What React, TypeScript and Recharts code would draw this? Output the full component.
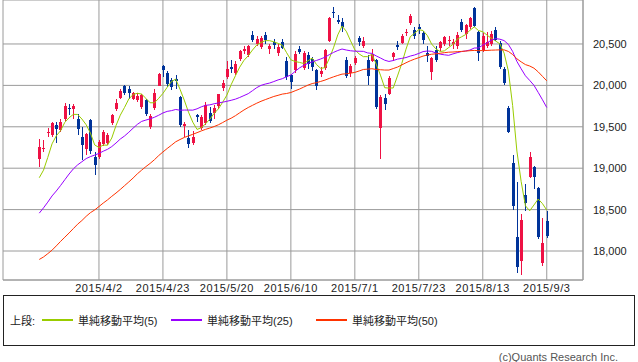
import { Bar, CartesianGrid, ComposedChart, Line, XAxis, YAxis } from "recharts";

// 日経平均 日足 (2015/3/13 - 2015/9/3)
const dates = [
  "3/13", "3/16", "3/17", "3/18", "3/19", "3/20", "3/23", "3/24", "3/25", "3/26",
  "3/27", "3/30", "3/31", "4/1", "4/2", "4/3", "4/6", "4/7", "4/8", "4/9",
  "4/10", "4/13", "4/14", "4/15", "4/16", "4/17", "4/20", "4/21", "4/22", "4/23",
  "4/24", "4/27", "4/28", "4/30", "5/1", "5/7", "5/8", "5/11", "5/12", "5/13",
  "5/14", "5/15", "5/18", "5/19", "5/20", "5/21", "5/22", "5/25", "5/26", "5/27",
  "5/28", "5/29", "6/1", "6/2", "6/3", "6/4", "6/5", "6/8", "6/9", "6/10",
  "6/11", "6/12", "6/15", "6/16", "6/17", "6/18", "6/19", "6/22", "6/23", "6/24",
  "6/25", "6/26", "6/29", "6/30", "7/1", "7/2", "7/3", "7/6", "7/7", "7/8",
  "7/9", "7/10", "7/13", "7/14", "7/15", "7/16", "7/17", "7/21", "7/22", "7/23",
  "7/24", "7/27", "7/28", "7/29", "7/30", "7/31", "8/3", "8/4", "8/5", "8/6",
  "8/7", "8/10", "8/11", "8/12", "8/13", "8/14", "8/17", "8/18", "8/19", "8/20",
  "8/21", "8/24", "8/25", "8/26", "8/27", "8/28", "8/31", "9/1", "9/2", "9/3",
];

const open = [
  19111, 19230, 19420, 19400, 19520, 19460, 19590, 19730, 19720, 19600,
  19373, 19228, 19580, 19140, 19140, 19290, 19300, 19545, 19710, 19850,
  19990, 19960, 19835, 19820, 19745, 19820, 19500, 19730, 19995, 20240,
  20150, 20070, 20080, 19860, 19505, 19360, 19300, 19640, 19490, 19546,
  19670, 19670, 19751, 19965, 20100, 20226, 20150, 20315, 20420, 20367,
  20609, 20500, 20460, 20609, 20436, 20528, 20388, 20528, 20295, 20126,
  20186, 20436, 20207, 20367, 20320, 20186, 20140, 20207, 20530, 20890,
  20785, 20770, 20310, 20146, 20267, 20569, 20470, 20307, 20300, 20307,
  19480, 19845, 19900, 20340, 20490, 20516, 20637, 20750, 20670, 20700,
  20630, 20390, 20166, 20430, 20450, 20500, 20530, 20500, 20470, 20760,
  20620, 20700, 20930, 20650, 20430, 20480, 20500, 20670, 20512, 20198,
  19727, 19063, 18169, 17880, 18676, 18894, 19014, 18761, 17855, 18362,
];

const high = [
  19350, 19340, 19490, 19560, 19560, 19600, 19784, 19780, 19778, 19650,
  19500, 19430, 19600, 19190, 19340, 19460, 19420, 19660, 19840, 19960,
  20006, 19990, 19925, 19910, 19900, 19840, 19650, 19960, 20150, 20252,
  20170, 20090, 20130, 19870, 19560, 19460, 19450, 19660, 19640, 19800,
  19740, 19760, 19900, 20060, 20290, 20310, 20300, 20430, 20480, 20490,
  20655, 20600, 20600, 20650, 20500, 20560, 20500, 20560, 20340, 20140,
  20410, 20480, 20410, 20400, 20340, 20200, 20220, 20440, 20830, 20952,
  20850, 20810, 20340, 20260, 20350, 20600, 20580, 20367, 20440, 20320,
  19880, 19900, 20110, 20400, 20530, 20620, 20680, 20860, 20700, 20740,
  20660, 20480, 20340, 20470, 20540, 20600, 20600, 20560, 20640, 20800,
  20740, 20830, 20946, 20660, 20630, 20640, 20660, 20700, 20540, 20220,
  19750, 19160, 18833, 18450, 18809, 19190, 19030, 18770, 18400, 18480,
];

const low = [
  19020, 19200, 19380, 19380, 19310, 19440, 19570, 19640, 19600, 19400,
  19100, 19160, 19170, 18920, 19110, 19270, 19280, 19520, 19690, 19830,
  19880, 19840, 19820, 19800, 19720, 19630, 19470, 19700, 19990, 20100,
  19980, 19950, 19960, 19500, 19380, 19240, 19280, 19560, 19460, 19520,
  19540, 19600, 19720, 19930, 20080, 20150, 20130, 20300, 20380, 20340,
  20520, 20470, 20440, 20500, 20380, 20440, 20350, 20440, 20060, 19960,
  20150, 20380, 20180, 20200, 20170, 19950, 20100, 20190, 20520, 20810,
  20740, 20650, 20090, 20100, 20250, 20480, 20450, 20000, 20280, 19720,
  19115, 19700, 19880, 20300, 20430, 20500, 20600, 20730, 20560, 20620,
  20500, 20286, 20065, 20280, 20420, 20480, 20470, 20440, 20440, 20640,
  20560, 20680, 20700, 20290, 20400, 20450, 20480, 20530, 20200, 20010,
  19420, 18495, 17740, 17714, 18480, 18880, 18750, 18150, 17820, 18160,
];

const close = [
  19254, 19246, 19437, 19544, 19476, 19560, 19754, 19713, 19746, 19471,
  19285, 19411, 19206, 19034, 19312, 19435, 19397, 19640, 19789, 19937,
  19907, 19905, 19908, 19869, 19885, 19652, 19634, 19909, 20133, 20187,
  20020, 19983, 20058, 19520, 19531, 19292, 19379, 19620, 19624, 19764,
  19570, 19732, 19890, 20026, 20196, 20202, 20264, 20413, 20437, 20472,
  20551, 20563, 20569, 20543, 20473, 20488, 20460, 20457, 20096, 20046,
  20382, 20407, 20387, 20257, 20219, 19990, 20174, 20428, 20809, 20868,
  20771, 20706, 20109, 20235, 20329, 20522, 20539, 20112, 20376, 19737,
  19855, 19779, 20089, 20385, 20463, 20600, 20650, 20841, 20593, 20683,
  20544, 20350, 20328, 20302, 20522, 20585, 20548, 20520, 20614, 20664,
  20724, 20808, 20720, 20392, 20595, 20519, 20620, 20554, 20222, 20033,
  19435, 18540, 17806, 18376, 18574, 19136, 18890, 18165, 18095, 18182,
];

const ma5 = [
  18885, 18976, 19130, 19294, 19391, 19453, 19554, 19609, 19650, 19649,
  19594, 19525, 19424, 19281, 19250, 19280, 19277, 19364, 19515, 19640,
  19734, 19836, 19889, 19905, 19895, 19844, 19790, 19790, 19843, 19903,
  19977, 20046, 20076, 19954, 19822, 19677, 19556, 19468, 19489, 19536,
  19591, 19662, 19716, 19796, 19883, 20009, 20116, 20220, 20302, 20358,
  20427, 20487, 20518, 20540, 20540, 20527, 20507, 20484, 20395, 20309,
  20288, 20278, 20264, 20296, 20330, 20252, 20205, 20214, 20324, 20454,
  20610, 20716, 20653, 20538, 20430, 20380, 20347, 20347, 20376, 20257,
  20124, 19972, 19967, 19969, 20114, 20263, 20437, 20588, 20629, 20673,
  20662, 20602, 20500, 20441, 20409, 20417, 20457, 20495, 20558, 20586,
  20614, 20666, 20706, 20662, 20648, 20607, 20569, 20536, 20502, 20390,
  20173, 19757, 19207, 18838, 18546, 18486, 18556, 18628, 18572, 18494,
];

const ma25 = [
  18457, 18521, 18590, 18665, 18725, 18791, 18861, 18930, 18992, 19040,
  19078, 19116, 19140, 19158, 19179, 19205, 19228, 19261, 19304, 19352,
  19389, 19434, 19483, 19529, 19565, 19581, 19596, 19615, 19639, 19667,
  19686, 19695, 19709, 19700, 19702, 19702, 19701, 19717, 19741, 19759,
  19765, 19778, 19788, 19797, 19808, 19820, 19834, 19854, 19877, 19900,
  19936, 19973, 20000, 20016, 20028, 20046, 20066, 20081, 20105, 20125,
  20169, 20210, 20241, 20266, 20284, 20301, 20319, 20340, 20371, 20398,
  20421, 20439, 20427, 20418, 20413, 20412, 20411, 20392, 20386, 20356,
  20331, 20304, 20289, 20300, 20317, 20326, 20336, 20354, 20367, 20386,
  20408, 20415, 20411, 20391, 20377, 20369, 20363, 20380, 20395, 20408,
  20416, 20427, 20451, 20452, 20486, 20513, 20546, 20565, 20558, 20541,
  20495, 20410, 20289, 20200, 20116, 20060, 20001, 19915, 19826, 19733,
];

const ma50 = [
  17898, 17928, 17968, 18010, 18062, 18116, 18167, 18218, 18271, 18324,
  18368, 18419, 18463, 18496, 18537, 18579, 18617, 18660, 18700, 18743,
  18789, 18834, 18881, 18932, 18976, 19019, 19058, 19102, 19152, 19196,
  19238, 19278, 19319, 19346, 19371, 19390, 19409, 19429, 19450, 19469,
  19485, 19503, 19524, 19551, 19580, 19604, 19634, 19669, 19703, 19733,
  19759, 19785, 19808, 19828, 19847, 19866, 19880, 19895, 19902, 19914,
  19935, 19955, 19979, 20003, 20022, 20033, 20048, 20064, 20084, 20103,
  20120, 20136, 20140, 20148, 20157, 20174, 20192, 20196, 20201, 20192,
  20189, 20185, 20185, 20203, 20221, 20247, 20273, 20297, 20317, 20335,
  20354, 20367, 20376, 20381, 20388, 20395, 20401, 20403, 20407, 20410,
  20414, 20419, 20422, 20419, 20421, 20422, 20425, 20427, 20429, 20429,
  20410, 20373, 20321, 20284, 20251, 20234, 20208, 20163, 20109, 20055,
];

const xTickLabels = ["2015/4/2", "2015/4/23", "2015/5/20", "2015/6/10", "2015/7/1", "2015/7/23", "2015/8/13", "2015/9/3"];
const yTicks = [18000, 18500, 19000, 19500, 20000, 20500];

const UP = "#ee1144";
const DOWN = "#003399";
const GRID = "#9a9a9a";
const FONT = "'Liberation Sans', 'Noto Sans CJK JP', sans-serif";

const maSeries = [
  { key: "ma5", name: "単純移動平均(5)", color: "#99cc00", left: 42 },
  { key: "ma25", name: "単純移動平均(25)", color: "#9900ff", left: 171 },
  { key: "ma50", name: "単純移動平均(50)", color: "#ff3300", left: 316 },
];

const data = dates.map((d, i) => ({
  i,
  date: d,
  o: open[i],
  h: high[i],
  l: low[i],
  c: close[i],
  ma5: ma5[i],
  ma25: ma25[i],
  ma50: ma50[i],
}));

const xTicks = xTickLabels.map((t) => dates.indexOf(t.replace("2015/", "")));

function Candle(props: any) {
  const { x, y, width, height, payload } = props;
  if (x == null || y == null || !payload) return null;
  const top = Math.min(y, y + height);
  const bottom = Math.max(y, y + height);
  const { o, h, l, c } = payload;
  const k = h === l ? 0 : (bottom - top) / (h - l);
  const bodyTop = top + (h - Math.max(o, c)) * k;
  const bodyBottom = top + (h - Math.min(o, c)) * k;
  const color = c >= o ? UP : DOWN;
  const cx = Math.round(x + width / 2 - 0.5);
  return (
    <g shapeRendering="crispEdges">
      <rect x={cx} y={top} width={1} height={Math.max(bottom - top, 1)} fill={color} />
      <rect x={cx - 1} y={bodyTop} width={3} height={Math.max(bodyBottom - bodyTop, 1)} fill={color} />
    </g>
  );
}

export default function App() {
  return (
    <div
      style={{
        position: "absolute",
        left: 0,
        top: 0,
        width: 638,
        height: 362,
        background: "#fff",
        overflow: "hidden",
        fontFamily: FONT,
      }}
    >
      <ComposedChart width={638} height={300} data={data} margin={{ top: 0, right: 0, bottom: 0, left: 3 }}>
        <CartesianGrid stroke={GRID} />
        <XAxis
          dataKey="i"
          type="number"
          domain={[-8.5, 127.5]}
          ticks={xTicks}
          interval={0}
          tickFormatter={(i) => "2015/" + dates[i]}
          tickLine={false}
          tickSize={0}
          tickMargin={4}
          height={20}
          axisLine={{ stroke: GRID }}
          tick={{ fill: "#222", fontSize: 11, letterSpacing: 0.6, fontFamily: FONT }}
        />
        <YAxis
          yAxisId="frame"
          orientation="left"
          width={0}
          tick={false}
          tickLine={false}
          axisLine={{ stroke: GRID }}
        />
        <YAxis
          orientation="right"
          domain={[17650, 21031]}
          ticks={yTicks}
          allowDataOverflow
          width={55}
          tickLine={false}
          tickSize={0}
          tickMargin={10}
          axisLine={{ stroke: GRID }}
          tickFormatter={(v) => Number(v).toLocaleString("en-US")}
          tick={{ fill: "#222", fontSize: 11, fontFamily: FONT }}
        />
        <Bar
          dataKey={(d: any) => [d.l, d.h]}
          barSize={3}
          shape={(p: any) => <Candle {...p} />}
          isAnimationActive={false}
        />
        {maSeries.map((s) => (
          <Line
            key={s.key}
            type="linear"
            dataKey={s.key}
            stroke={s.color}
            strokeWidth={1}
            dot={false}
            activeDot={false}
            isAnimationActive={false}
          />
        ))}
      </ComposedChart>

      <div
        style={{
          position: "absolute",
          left: 3,
          top: 295,
          width: 630,
          height: 49,
          border: "1px solid #222",
          fontSize: 11,
          color: "#222",
        }}
      >
        <span style={{ position: "absolute", left: 6, top: 16 }}>上段:</span>
        {maSeries.map((s) => (
          <div
            key={s.key}
            style={{ position: "absolute", left: s.left - 4, top: 16, display: "flex", alignItems: "center" }}
          >
            <span style={{ display: "inline-block", width: 31, height: 2, background: s.color, marginRight: 5 }} />
            <span>{s.name}</span>
          </div>
        ))}
      </div>
      <div style={{ position: "absolute", right: 20, top: 351, fontSize: 11, color: "#555" }}>
        (c)Quants Research Inc.
      </div>
    </div>
  );
}
